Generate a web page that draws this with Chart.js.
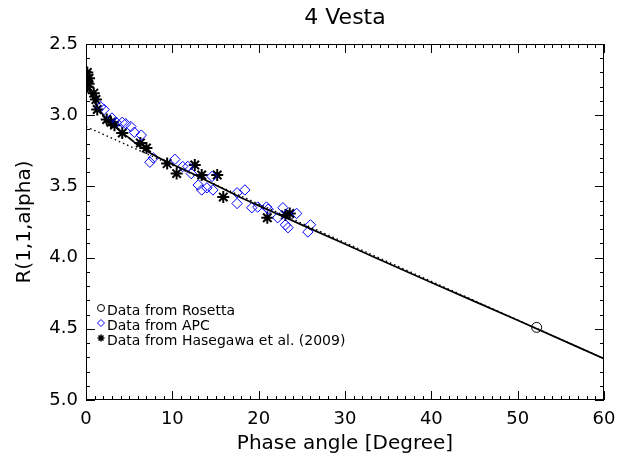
<!DOCTYPE html>
<html>
<head>
<meta charset="utf-8">
<script src="https://cdn.jsdelivr.net/npm/chart.js@4.4.1/dist/chart.umd.min.js"></script>
<style>
  html, body { margin: 0; padding: 0; background: #fff; }
</style>
</head>
<body>
<canvas id="chart" width="634" height="464"></canvas>
<script>
// Rosetta point
const rosettaX = [52.2];
const rosettaY = [4.49];

// APC data (blue diamonds)
const apcX = [1.7, 2.1, 3.0, 3.5, 4.2, 4.6, 5.2, 5.6, 6.4, 7.4, 7.8, 10.3, 11.2, 11.8, 12.2, 13.0, 13.4, 14.0, 14.7, 14.6,
              17.5, 18.4, 17.5, 19.2, 19.9, 20.9, 21.1, 22.8, 22.2, 24.4, 23.1, 23.4, 26.0, 25.7];
const apcY = [2.94, 2.96, 3.02, 3.05, 3.05, 3.06, 3.08, 3.12, 3.14, 3.33, 3.30, 3.31, 3.36, 3.36, 3.41, 3.49, 3.525, 3.51, 3.525, 3.43,
              3.545, 3.525, 3.62, 3.65, 3.645, 3.645, 3.66, 3.65, 3.72, 3.69, 3.77, 3.79, 3.77, 3.82];

// Hasegawa et al. (2009) (asterisks)
const hasX = [0.1, 0.1, 0.2, 0.35, 0.3, 0.15, 0.9, 1.15, 1.3, 2.4, 2.9, 3.3, 4.2, 6.3, 7.0, 9.4, 10.5, 12.6, 13.4, 15.2, 15.9, 21.0, 23.1, 23.6];
const hasY = [2.72, 2.77, 2.80, 2.74, 2.78, 2.70, 2.845, 2.89, 2.96, 3.03, 3.05, 3.07, 3.125, 3.195, 3.23, 3.34, 3.41, 3.35, 3.42, 3.42, 3.575, 3.72, 3.70, 3.69];

// fitted curve (solid) and linear part (dotted)
const fitX = [0, 0.5, 1, 1.5, 2, 3, 4, 5, 6, 7, 8, 10, 12, 15, 17.5, 20, 25, 30, 40, 50, 60];
const fitY = [2.76, 2.84, 2.91, 2.96, 3.00, 3.06, 3.115, 3.16, 3.21, 3.25, 3.285, 3.345, 3.40, 3.49, 3.565, 3.635, 3.77, 3.905, 4.175, 4.44, 4.71];
const linX = [0, 60];
const linY = [3.08, 4.71];

const xTicks = [0, 10, 20, 30, 40, 50, 60];
const yTicks = [2.5, 3.0, 3.5, 4.0, 4.5, 5.0];

const FONT = "'DejaVu Sans', sans-serif";

function pts(xs, ys) {
  return xs.map((x, i) => ({ x: x, y: ys[i] }));
}

// IDL style box with inward ticks, title and legend
const decorPlugin = {
  id: 'decor',
  afterDraw(chart) {
    const ctx = chart.ctx;
    const a = chart.chartArea;
    const xs = chart.scales.x, ys = chart.scales.y;
    ctx.save();
    ctx.setLineDash([]);
    ctx.strokeStyle = '#000';
    ctx.lineWidth = 1;
    ctx.strokeRect(a.left + 0.5, a.top + 0.5, a.right - a.left - 1, a.bottom - a.top - 1);
    ctx.beginPath();
    for (let v = 0; v <= 60; v += 1) {
      const px = Math.round(xs.getPixelForValue(v)) + 0.5;
      const len = v % 10 === 0 ? 9 : 4;
      ctx.moveTo(px, a.bottom);
      ctx.lineTo(px, a.bottom - len);
      ctx.moveTo(px, a.top);
      ctx.lineTo(px, a.top + len);
    }
    for (let i = 0; i <= 25; i++) {
      const v = 2.5 + i * 0.1;
      const py = Math.round(ys.getPixelForValue(v)) + 0.5;
      const len = i % 5 === 0 ? 9 : 4;
      ctx.moveTo(a.left, py);
      ctx.lineTo(a.left + len, py);
      ctx.moveTo(a.right, py);
      ctx.lineTo(a.right - len, py);
    }
    ctx.stroke();

    // title
    ctx.fillStyle = '#000';
    ctx.font = '22px ' + FONT;
    ctx.textAlign = 'center';
    ctx.textBaseline = 'middle';
    ctx.fillText('4 Vesta', (a.left + a.right) / 2, 18);

    // legend
    ctx.font = '14px ' + FONT;
    ctx.textAlign = 'left';
    const items = chart.data.datasets.filter(d => d.legend);
    items.forEach((d, i) => {
      const cy = 310 + i * 15;
      const cx = 101;
      ctx.strokeStyle = d.borderColor;
      ctx.lineWidth = 1;
      ctx.beginPath();
      const r = 3.5;
      if (d.pointStyle === 'circle') {
        ctx.arc(cx, cy - 2, r, 0, Math.PI * 2);
      } else if (d.pointStyle === 'rectRot') {
        ctx.moveTo(cx, cy - 2 - r);
        ctx.lineTo(cx + r, cy - 2);
        ctx.lineTo(cx, cy - 2 + r);
        ctx.lineTo(cx - r, cy - 2);
        ctx.closePath();
      } else {
        ctx.lineWidth = 1.6;
        for (let k = 0; k < 4; k++) {
          const ang = k * Math.PI / 4;
          ctx.moveTo(cx - r * Math.cos(ang), cy - 2 - r * Math.sin(ang));
          ctx.lineTo(cx + r * Math.cos(ang), cy - 2 + r * Math.sin(ang));
        }
      }
      ctx.stroke();
      ctx.fillStyle = '#000';
      ctx.fillText(d.label, 107, cy + 1);
    });
    ctx.restore();
  }
};

new Chart(document.getElementById('chart'), {
  type: 'scatter',
  data: {
    datasets: [
      {
        type: 'line',
        label: 'fit',
        data: pts(fitX, fitY),
        borderColor: '#000',
        borderWidth: 1.7,
        pointRadius: 0,
        cubicInterpolationMode: 'monotone',
        fill: false
      },
      {
        type: 'line',
        label: 'linear',
        data: pts(linX, linY),
        borderColor: '#000',
        borderWidth: 1.4,
        borderDash: [1.5, 3],
        pointRadius: 0,
        fill: false
      },
      {
        label: 'Data from Rosetta',
        legend: true,
        data: pts(rosettaX, rosettaY),
        pointStyle: 'circle',
        pointRadius: 5,
        borderColor: '#000',
        backgroundColor: 'rgba(0,0,0,0)',
        borderWidth: 1
      },
      {
        label: 'Data from APC',
        legend: true,
        data: pts(apcX, apcY),
        pointStyle: 'rectRot',
        pointRadius: 5.2,
        borderColor: '#0000ff',
        backgroundColor: 'rgba(0,0,0,0)',
        borderWidth: 1
      },
      {
        label: 'Data from Hasegawa et al. (2009)',
        legend: true,
        data: pts(hasX, hasY),
        pointStyle: 'star',
        pointRadius: 6,
        borderColor: '#000',
        backgroundColor: '#000',
        borderWidth: 2
      }
    ]
  },
  options: {
    responsive: false,
    animation: false,
    layout: { padding: { top: 44, right: 30, left: 0, bottom: 0 } },
    plugins: {
      legend: { display: false },
      tooltip: { enabled: false }
    },
    scales: {
      x: {
        type: 'linear',
        min: 0,
        max: 60,
        afterFit: s => { s.height = 64; },
        afterBuildTicks: s => { s.ticks = xTicks.map(v => ({ value: v })); },
        grid: { display: false, drawTicks: false },
        border: { display: false },
        ticks: { color: '#000', font: { family: FONT, size: 18 }, padding: 9, maxRotation: 0 },
        title: { display: true, text: 'Phase angle [Degree]', color: '#000', font: { family: FONT, size: 20 }, padding: { top: 0, bottom: 8 } }
      },
      y: {
        type: 'linear',
        reverse: true,
        min: 2.5,
        max: 5.0,
        afterFit: s => { s.width = 86; },
        afterBuildTicks: s => { s.ticks = yTicks.map(v => ({ value: v })); },
        grid: { display: false, drawTicks: false },
        border: { display: false },
        ticks: { color: '#000', font: { family: FONT, size: 18 }, padding: 8, callback: v => v.toFixed(1) },
        title: { display: true, text: 'R(1,1,alpha)', color: '#000', font: { family: FONT, size: 20 }, padding: { top: 13, bottom: 0 } }
      }
    }
  },
  plugins: [decorPlugin]
});
</script>
</body>
</html>
